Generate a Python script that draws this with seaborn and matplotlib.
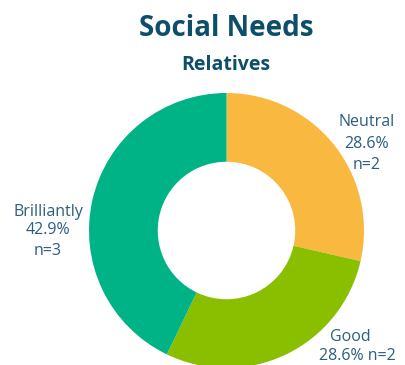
import matplotlib
matplotlib.use("Agg")
import matplotlib.pyplot as plt
import seaborn as sns

# Survey answers for "Relatives"
categories = ["Neutral", "Good", "Brilliantly"]
counts = [2, 2, 3]
palette = ["#F9B941", "#8ABF00", "#00B386"]

title = "Social Needs"
subtitle = "Relatives"

sns.set_theme(style="white")
plt.rcParams["font.family"] = ["Open Sans", "DejaVu Sans"]

W, H = 406, 365
fig = plt.figure(figsize=(W / 100, H / 100), dpi=100)
fig.patch.set_facecolor("white")

# Axes spanning the whole figure; one data unit equals the outer radius in pixels
cx, cy, r = 226.5, 230.5, 137.5
ax = fig.add_axes([0, 0, 1, 1])
ax.pie(
    counts,
    colors=palette,
    startangle=90,
    counterclock=False,
    radius=1.0,
    wedgeprops=dict(width=0.5, linewidth=0),
)
ax.set_aspect("auto")
ax.set_xlim(-cx / r, (W - cx) / r)
ax.set_ylim(-(H - cy) / r, cy / r)
ax.axis("off")

total = sum(counts)
pct = [100.0 * c / total for c in counts]

label_color = "#2A5F7E"
title_color = "#0D4F6B"


def put(text, x, y, size=11.5, weight="normal", color=label_color):
    fig.text(x / W, 1 - y / H, text, ha="center", va="baseline",
             fontsize=size, fontweight=weight, color=color)


put(title, 226, 36, size=20, weight="bold", color=title_color)
put(subtitle, 226, 70, size=14, weight="bold", color=title_color)

# Neutral
put(categories[0], 367, 126)
put(f"{pct[0]:.1f}%", 367, 148)
put(f"n={counts[0]}", 367, 169)
# Brilliantly
put(categories[2], 48, 216)
put(f"{pct[2]:.1f}%", 48, 234)
put(f"n={counts[2]}", 48, 255)
# Good
put(categories[1], 350, 341)
put(f"{pct[1]:.1f}% n={counts[1]}", 357, 360)

fig.savefig("out.png", dpi=100, facecolor="white")
